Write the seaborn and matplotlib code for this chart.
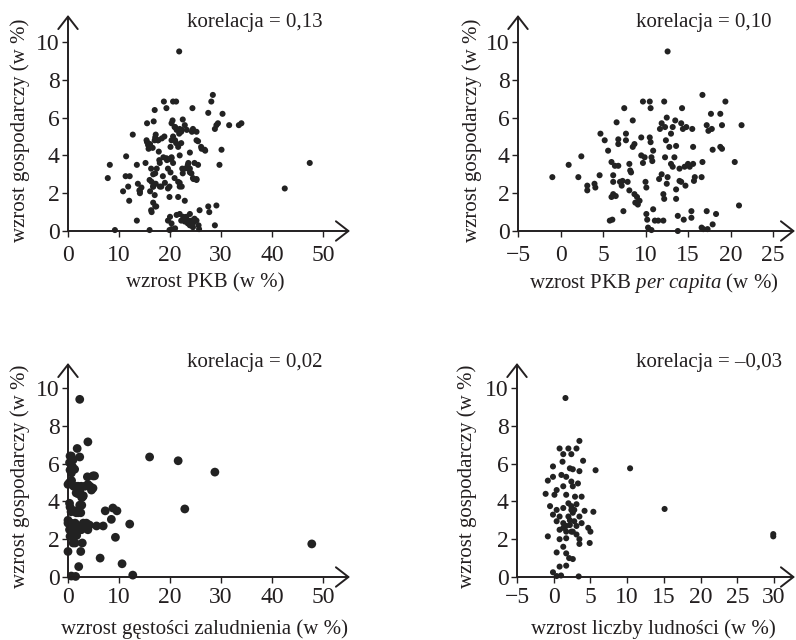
import matplotlib
matplotlib.use("Agg")
import matplotlib.pyplot as plt
import seaborn as sns
import pandas as pd

# ---------------- data ----------------
pkb_x = [21.8, 8.2, 7.8, 9.2, 11.4, 12.7, 11.3, 12.1, 10.8, 12.0, 11.8, 13.5, 13.5, 13.7, 14.1, 14.0,
         15.2, 15.5, 15.5, 15.7, 16.0, 16.3, 16.0, 16.3, 16.8, 17.0, 17.2, 17.0, 16.6, 16.7, 16.7, 17.0,
         17.3, 17.2, 17.6, 17.8, 18.0, 18.3, 18.6, 18.9, 18.8, 19.3, 19.4, 19.6, 19.9, 19.6, 19.9, 20.3,
         20.6, 21.2, 20.5, 20.3, 20.9, 20.6, 20.1, 20.3, 19.9, 20.6, 20.1, 20.9, 21.6, 21.9, 21.6, 21.2,
         21.8, 22.2, 22.5, 22.9, 21.9, 22.2, 21.9, 22.4, 22.5, 22.9, 21.9, 22.2, 22.9, 23.2, 23.5, 23.9,
         24.2, 24.5, 24.8, 25.2, 25.7, 25.8, 23.9, 23.5, 23.9, 24.2, 24.5, 25.2, 25.5, 24.8, 24.4, 24.5,
         25.2, 25.5, 26.1, 26.8, 27.5, 27.7, 27.5, 28.1, 28.4, 28.8, 29.1, 29.4, 29.1, 28.8, 29.7, 30.1,
         30.3, 31.6, 33.5, 34.0, 42.5, 47.4,
         16.4, 16.7, 16.1, 17.1, 17.4, 17.9, 18.7, 19.3, 20.3, 19.6, 18.0, 19.0, 19.9, 21.9, 22.3, 14.1,
         14.4, 16.7, 17.1, 16.4, 15.4, 16.1, 15.8, 17.1, 17.7, 18.4, 20.3, 21.0, 21.6, 22.9, 23.6, 23.9,
         24.6, 25.2, 23.6, 21.3, 21.0, 22.3, 23.3, 24.3, 25.2, 26.2, 26.9, 21.3, 22.6, 23.6, 24.6, 25.6,
         20.0, 20.3, 21.0, 23.9]
pkb_y = [9.5, 3.5, 2.8, 0.05, 3.95, 5.1, 2.9, 2.9, 2.1, 1.6, 2.35, 3.5, 0.55, 2.5, 2.0, 2.15,
         3.6, 5.7, 4.7, 4.55, 2.7, 3.3, 0.05, 1.1, 5.8, 6.4, 5.1, 4.8, 4.4, 3.0, 2.35, 1.9,
         1.3, 2.5, 4.8, 4.2, 3.6, 2.35, 2.9, 5.0, 6.85, 6.5, 3.75, 2.25, 1.8, 0.55, 0.05, 0.1,
         6.85, 6.85, 5.85, 5.7, 5.5, 5.0, 4.45, 3.9, 3.8, 3.6, 3.1, 2.8, 2.6, 2.35, 1.8, 4.65,
         5.15, 5.25, 5.9, 5.6, 5.4, 4.65, 4.0, 3.3, 3.05, 1.6, 0.9, 0.55, 0.5, 0.75, 0.4, 0.9,
         0.55, 0.2, 0.65, 0.55, 0.1, 1.1, 4.15, 3.5, 3.3, 3.05, 2.8, 2.7, 3.5, 3.6, 6.5, 5.4,
         5.25, 4.75, 4.45, 4.3, 1.3, 1.0, 6.25, 6.85, 7.2, 5.4, 5.6, 5.7, 1.35, 0.3, 3.5, 4.3,
         6.2, 5.6, 5.6, 5.7, 2.25, 3.6,
         2.6, 2.35, 2.1, 3.05, 3.3, 3.75, 3.9, 3.85, 3.85, 3.3, 2.35, 2.55, 2.35, 2.55, 2.35, 2.1,
         2.3, 1.5, 1.3, 1.0, 4.8, 4.6, 4.35, 4.95, 4.8, 4.9, 4.8, 4.8, 4.45, 3.3, 3.3, 3.1,
         2.75, 2.75, 3.6, 5.35, 5.5, 5.35, 5.35, 5.25, 4.8, 4.35, 4.25, 0.85, 0.75, 0.55, 0.45, 0.3,
         0.75, 0.4, 0.14, 0.3]

pc_x = [-0.96, 0.96, 2.1, 2.45, 3.15, 3.15, 4.0, 4.1, 4.6, 4.7, 5.2, 5.6, 5.8, 6.1, 6.0, 6.2,
        6.2, 6.2, 6.0, 6.5, 6.4, 6.6, 6.8, 6.8, 6.8, 7.0, 7.2, 7.3, 7.4, 7.5, 7.7, 7.7,
        7.9, 8.1, 8.1, 8.2, 8.3, 8.5, 8.5, 8.7, 8.7, 9.0, 8.8, 9.1, 9.3, 9.5, 9.5, 9.7,
        9.7, 9.9, 10.0, 10.1, 10.1, 10.2, 10.3, 10.5, 10.6, 10.5, 10.6, 10.7, 10.8, 10.7, 10.9, 10.9,
        11.1, 11.5, 11.6, 11.9, 12.1, 12.1, 12.2, 12.2, 12.3, 12.5, 11.9, 11.7, 12.3, 12.4, 12.5, 12.6,
        12.6, 12.8, 13.0, 13.2, 13.0, 13.2, 13.4, 13.5, 13.6, 13.6, 13.8, 13.8, 14.0, 14.0, 14.2, 13.6,
        14.3, 14.2, 14.4, 14.5, 14.6, 14.7, 14.8, 15.0, 15.2, 15.4, 15.4, 15.5, 15.6, 15.6, 15.7, 15.8,
        16.7, 16.7, 16.6, 16.6, 16.8, 17.2, 17.2, 17.3, 17.4, 17.8, 17.7, 17.9, 17.9, 18.3, 18.8, 18.8,
        19.0, 19.0, 19.4, 20.5, 21.0, 21.3]
pc_y = [2.85, 3.5, 2.85, 3.95, 2.4, 2.15, 2.5, 2.3, 2.95, 5.15, 4.8, 4.25, 0.55, 0.6, 3.65, 2.95,
        2.6, 1.95, 1.8, 1.85, 3.45, 5.75, 4.85, 4.6, 3.45, 2.6, 2.4, 2.65, 1.05, 6.5, 5.15, 4.8,
        2.6, 2.15, 3.55, 3.2, 3.1, 5.85, 4.45, 4.6, 1.95, 1.8, 1.5, 1.4, 1.6, 4.0, 4.95, 6.85,
        3.6, 3.9, 2.6, 2.3, 0.9, 0.6, 0.18, 6.85, 6.5, 4.95, 4.7, 3.9, 3.7, 0.05, 1.15, 4.25,
        0.55, 0.55, 2.75, 3.0, 0.55, 1.95, 1.7, 6.85, 3.9, 6.0, 5.7, 5.4, 5.5, 4.8, 2.5, 2.85,
        9.5, 4.45, 5.15, 5.5, 3.55, 3.4, 3.9, 5.85, 2.2, 1.7, 0.8, 0.0, 3.3, 2.65, 2.6, 4.5,
        6.5, 5.7, 5.4, 0.6, 3.4, 2.4, 5.5, 3.55, 3.4, 1.05, 0.7, 5.4, 4.45, 3.55, 2.65, 2.85,
        7.2, 3.65, 2.85, 0.18, 0.1, 5.6, 1.05, 0.1, 5.3, 5.4, 6.2, 4.3, 0.35, 0.9, 6.2, 4.45,
        5.6, 4.35, 6.85, 3.65, 1.35, 5.6]

gest_x = [2.3, 3.9, 1.8, 2.3, 0.65, 0.3, 0.85, 1.3, 0.65, 3.8, 4.9, 5.2, 0.3, 0.0, 1.1, 2.0,
          2.6, 3.3, 3.9, 4.6, 1.6, 2.9, 2.3, 0.3, 0.65, 1.3, 2.0, 2.3, 2.5, 0.0, 0.65, 1.3,
          0.3, 0.65, 1.0, 1.6, 2.3, 2.8, 2.5, 1.0, 0.0, 2.1, 0.65, 1.5, 3.6, 3.9, 4.2, 5.6,
          6.9, 7.3, 6.3, 8.5, 8.8, 9.6, 9.3, 10.6, 12.1, 12.7, 16.0, 21.6, 22.9, 28.8, 47.8,
          0.4, 1.0, 0.4, 0.7, 1.7, 2.0, 3.0, 2.7, 4.3, 4.9, 0.4, 0.6, 1.6, 2.7, 0.0, 1.4,
          2.4, 3.0, 4.0, 1.0, 1.7, 0.4, 2.6, 1.4]
gest_y = [9.4, 7.15, 6.8, 6.35, 6.4, 6.05, 5.85, 5.7, 5.5, 5.3, 5.35, 5.35, 5.0, 4.9, 4.8, 4.8,
          4.8, 4.8, 4.9, 4.6, 4.45, 4.25, 4.55, 3.9, 3.55, 3.5, 3.4, 3.8, 3.4, 2.85, 2.85, 2.7,
          2.5, 2.15, 2.3, 2.4, 2.5, 1.8, 1.35, 1.8, 1.35, 0.55, 0.05, 0.03, 2.85, 2.5, 2.75, 2.7,
          2.7, 3.5, 1.0, 3.05, 3.65, 3.5, 2.1, 0.7, 2.8, 0.1, 6.35, 6.15, 3.6, 5.55, 1.75,
          6.4, 6.2, 5.66, 5.1, 4.8, 4.4, 4.3, 4.2, 4.8, 4.7, 3.7, 3.45, 3.4, 3.8, 3.0, 2.85,
          2.7, 2.85, 2.7, 2.3, 2.2, 2.15, 2.5, 1.8]

lud_x = [1.6, 3.5, 0.8, 2.0, 3.1, 2.4, 1.3, 4.0, -0.1, 1.2, 2.2, 2.6, 3.5, 5.7, 10.4, 15.1,
         29.9, 29.9, -0.8, -0.1, 1.05, 1.7, 2.4, 3.3, 0.4, 1.3, 2.6, -1.1, 0.1, 1.7, 2.9, 3.8,
         -0.5, 0.4, 1.3, 2.4, 3.1, 4.2, 5.4, -0.1, 0.8, 2.0, 2.6, 3.5, 0.4, 1.3, 2.2, 3.1,
         3.8, 4.7, 5.0, 0.8, 1.7, 2.4, -0.8, 0.8, 1.7, 3.5, 4.9, 3.5, 1.3, 0.4, 1.7, 2.1,
         2.6, 0.8, 1.7, -0.1, 0.4, 1.0, 3.4, 1.7, 2.2, 2.8, 2.4, 2.8, 2.0, 1.3, 2.6, 3.1]
lud_y = [9.47, 7.2, 6.8, 6.8, 6.8, 6.5, 6.5, 6.15, 5.85, 6.1, 5.75, 5.7, 5.6, 5.65, 5.75, 3.6,
         2.27, 2.15, 5.1, 5.3, 5.4, 5.3, 5.05, 4.95, 4.6, 4.8, 4.8, 4.4, 4.35, 4.35, 4.25, 4.25,
         3.75, 3.55, 3.65, 3.75, 3.85, 3.5, 3.45, 3.3, 3.2, 3.2, 3.4, 3.2, 2.95, 2.85, 2.75, 2.7,
         2.85, 2.6, 2.4, 2.5, 2.4, 2.4, 2.15, 2.0, 2.05, 2.0, 1.8, 1.75, 1.6, 1.3, 1.25, 1.0,
         0.95, 0.55, 0.6, 0.25, 0.05, 0.08, 0.03, 2.7, 3.0, 2.95, 3.55, 3.55, 3.9, 2.6, 2.4, 2.25]

x_labels = ["wzrost PKB (w %)", "wzrost PKB $\\it{per\\ capita}$ (w %)",
            "wzrost gęstości zaludnienia (w %)", "wzrost liczby ludności (w %)"]
y_label = "wzrost gospodarczy (w %)"
corr_labels = ["korelacja = 0,13", "korelacja = 0,10", "korelacja = 0,02", "korelacja = \u20130,03"]
x_ticks = [[0, 10, 20, 30, 40, 50], [-5, 0, 5, 10, 15, 20, 25],
           [0, 10, 20, 30, 40, 50], [-5, 0, 5, 10, 15, 20, 25, 30]]
y_ticks = [0, 2, 4, 6, 8, 10]

# ---------------- style ----------------
sns.set_style("white")
plt.rcParams["font.family"] = ["Liberation Serif", "DejaVu Serif"]
plt.rcParams["mathtext.fontset"] = "custom"
plt.rcParams["mathtext.rm"] = "Liberation Serif"
plt.rcParams["mathtext.it"] = "Liberation Serif:italic"

W, H = 796, 640
fig = plt.figure(figsize=(W / 100, H / 100), dpi=100)

# axes boxes in pixels: left, right, bottom(y of x-axis), top
boxes = [(68, 350, 231, 15), (518, 795, 231, 15), (68, 350, 577, 363), (517, 795, 577, 363)]
xlims = [(0, (350 - 68) / 5.1), (-5, -5 + (795 - 518) / 8.5),
         (0, (350 - 68) / 5.1), (-5, -5 + (795 - 517) / 7.343)]
ylims = [(0, (231 - 15) / 18.9), (0, (231 - 15) / 18.9),
         (0, (577 - 363) / 18.9), (0, (577 - 363) / 18.9)]
datasets = [(pkb_x, pkb_y), (pc_x, pc_y), (gest_x, gest_y), (lud_x, lud_y)]
sizes = [19, 19, 40, 19]
xpads = [6, 6, 3, 3]
corr_pos = [(187, 23), (636, 23), (187, 362), (636, 362)]
xlab_pos = [(205, 283), (654, 283), (205, 629), (653, 629)]
ylab_pos = [(20, 130), (472, 130), (20, 476), (467, 476)]

dot_color = "#222222"
ink = "#231f20"

for i in range(4):
    l, r, b, t = boxes[i]
    ax = fig.add_axes([l / W, (H - b) / H, (r - l) / W, (b - t) / H])
    df = pd.DataFrame({"x": datasets[i][0], "y": datasets[i][1]})
    sns.scatterplot(data=df, x="x", y="y", ax=ax, s=sizes[i], color=dot_color,
                    edgecolor="none", linewidth=0, clip_on=False, zorder=3)
    ax.set_xlim(*xlims[i])
    ax.set_ylim(*ylims[i])
    ax.set_xticks(x_ticks[i])
    ax.set_yticks(y_ticks)
    ax.set_xlabel("")
    ax.set_ylabel("")
    for s in ax.spines.values():
        s.set_visible(False)
    ax.tick_params(direction="out", length=4, width=1, color=ink,
                   labelsize=17, labelcolor=ink)
    ax.tick_params(axis="x", bottom=True, pad=xpads[i])
    ax.tick_params(axis="y", left=True, pad=2)
    ax.patch.set_alpha(0)
    arrow = dict(arrowstyle="->,head_length=0.45,head_width=0.35", lw=1.4, color=ink,
                 shrinkA=0, shrinkB=0, mutation_scale=20)
    ax.annotate("", xy=(1, 0), xytext=(0, 0), xycoords="axes fraction",
                textcoords="axes fraction", arrowprops=arrow, annotation_clip=False)
    ax.annotate("", xy=(0, 1), xytext=(0, 0), xycoords="axes fraction",
                textcoords="axes fraction", arrowprops=arrow, annotation_clip=False)

    cx, cy = corr_pos[i]
    fig.text(cx / W, 1 - cy / H, corr_labels[i], ha="left", va="center",
             fontsize=15, color=ink)
    lx, ly = xlab_pos[i]
    fig.text(lx / W, 1 - ly / H, x_labels[i], ha="center", va="center",
             fontsize=15, color=ink)
    yx, yy = ylab_pos[i]
    fig.text(yx / W, 1 - yy / H, y_label, ha="center", va="center", rotation=90,
             fontsize=15, color=ink)

fig.savefig("out.png", dpi=100, facecolor="white")
